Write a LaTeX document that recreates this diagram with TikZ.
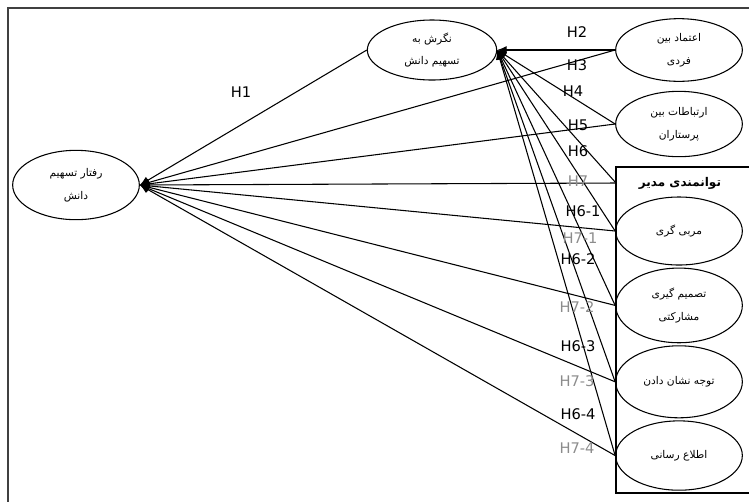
\documentclass[tikz,border=0pt]{standalone}
\usepackage{fontspec}
\setmainfont{DejaVu Sans}
\newfontfamily\fa[Script=Arabic]{DejaVu Sans}
\TeXXeTstate=1
\usetikzlibrary{shapes.geometric,arrows.meta,scopes,chains,positioning,calc}
\newcommand\rtl[1]{\beginR#1\endR}
\tikzset{
  model schemes/.style = {
    x = 0.75pt, y = -0.75pt,
    line width = 0.8pt,
    % construct (ellipse)
    cn/.style  = {
      ellipse, draw,
      inner sep=0pt,
      minimum width=95pt,
      align=center,
      font=\fa\fontsize{8}{17}\selectfont
    },
    % hypothesis labels
    hl/.style  = {font=\fontsize{11}{12}\selectfont, inner sep=1pt},
    ghl/.style = {hl, text=black!45},
    % paths
    path line/.style = {-{Latex[length=7pt,width=6pt]}},
  }
}
\begin{document}
\begin{tikzpicture}[model schemes]
  \useasboundingbox (0,0) rectangle (749,501);
  \clip (0,0) rectangle (749,501);
  \draw[line width=1.1pt, black!75] (8,8) rectangle (770,520);

  \node[cn, minimum height=52pt] (ksb) at (76,185)
     {\rtl{رفتار تسهیم}\\\rtl{دانش}};
  \node[cn, minimum height=45pt, minimum width=97pt] (att) at (432,50)
     {\rtl{نگرش به}\\\rtl{تسهیم دانش}};
  \node[cn, minimum height=47pt] (trust) at (679,50)
     {\rtl{اعتماد بین}\\\rtl{فردی}};
  \node[cn, minimum height=49pt] (comm) at (679,124)
     {\rtl{ارتباطات بین}\\\rtl{پرستاران}};

  % manager box
  \draw (616,167) coordinate (box) rectangle (760,493);
  \node[font=\fa\bfseries\fontsize{9}{11}\selectfont] (box-t) at (680,183)
     {\rtl{توانمندی مدیر}};
  \coordinate (box-in) at (box |- box-t);

  { [start chain=lead going below, node distance=1.5pt]
    \node[cn, on chain, minimum height=51pt] at (679,231) {\rtl{مربی گری}};
    \node[cn, on chain, minimum height=56pt] {\rtl{تصمیم گیری}\\\rtl{مشارکتی}};
    \node[cn, on chain, minimum height=54pt] {\rtl{توجه نشان دادن}};
    \node[cn, on chain, minimum height=52pt] {\rtl{اطلاع رسانی}};
  }

  \foreach \s in {trust, comm, lead-1, lead-2, lead-3, lead-4} {
    \draw[path line] (\s.west) -- (att.east);
    \draw[path line] (\s.west) -- (ksb.east);
  }
  \draw[path line] (box-in) -- (att.east);
  \draw[path line] (box-in) -- (ksb.east);
  \draw[path line] (att.west) -- (ksb.east);

  \node[hl] (h1) at (241,92) {H1};
  \foreach \t/\x/\y in {H2/577/32, H3/577/65, H4/573/91, H5/578/125,
      H6/578/151, H6-1/583/211, H6-2/578/259, H6-3/578/346, H6-4/578/414}
    \node[hl] (l-\t) at (\x,\y) {\t};
  \foreach \t/\x/\y in {H7/578/181, H7-1/580/238, H7-2/577/307,
      H7-3/577/381, H7-4/577/448}
    \node[ghl] (l-\t) at (\x,\y) {\t};

\end{tikzpicture}
\end{document}
